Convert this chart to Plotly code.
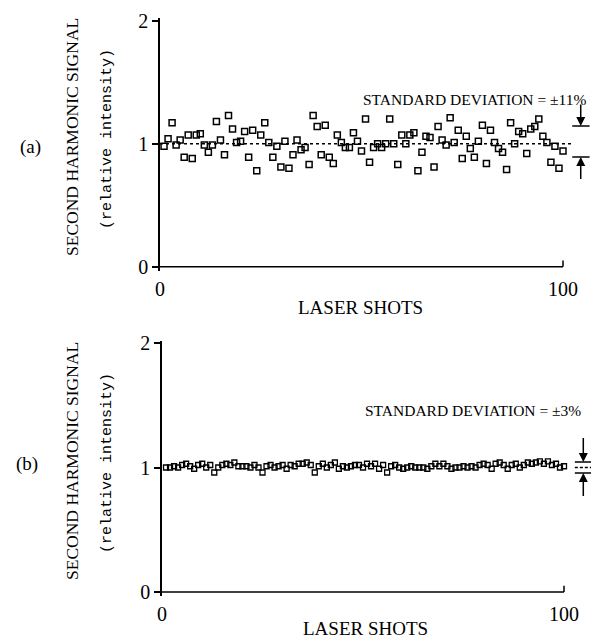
import plotly.graph_objects as go

# ---------------- data ----------------
shots = list(range(1, 101))

signal_a = [
    0.98, 1.04, 1.17, 0.99, 1.03, 0.89, 1.07, 0.88, 1.07, 1.08,
    0.99, 0.93, 0.99, 1.18, 1.03, 0.91, 1.23, 1.12, 1.01, 1.02,
    1.10, 0.89, 1.11, 0.78, 1.07, 1.17, 1.01, 0.89, 0.98, 0.81,
    1.02, 0.80, 0.91, 1.03, 0.95, 0.97, 0.83, 1.23, 1.14, 0.91,
    1.15, 0.89, 0.84, 1.07, 1.01, 0.97, 0.97, 1.09, 1.02, 0.94,
    1.20, 0.85, 0.97, 1.00, 0.97, 1.00, 1.20, 1.00, 0.83, 1.07,
    1.00, 1.07, 1.09, 0.78, 0.93, 1.06, 1.05, 0.81, 1.14, 1.03,
    0.99, 1.21, 1.01, 1.11, 0.88, 1.06, 0.96, 0.89, 1.02, 1.15,
    0.84, 1.11, 1.01, 0.96, 0.93, 0.79, 1.17, 1.00, 1.10, 1.08,
    0.92, 1.12, 1.14, 1.20, 1.06, 1.01, 0.85, 0.98, 0.80, 0.94,
]

signal_b = [
    1.00, 1.00, 1.01, 1.00, 1.02, 1.03, 1.01, 0.99, 1.02, 1.03,
    1.00, 1.02, 0.96, 1.00, 1.02, 1.03, 1.02, 1.04, 1.01, 1.01,
    1.01, 1.00, 1.02, 1.00, 0.96, 1.01, 1.02, 1.00, 1.01, 1.02,
    0.99, 1.02, 1.01, 1.03, 1.03, 1.04, 1.02, 0.96, 1.01, 1.03,
    1.00, 1.02, 1.04, 0.99, 1.01, 1.00, 1.01, 1.02, 1.02, 1.00,
    1.03, 1.01, 1.03, 0.99, 1.02, 0.96, 1.01, 1.02, 1.00, 0.99,
    1.00, 1.01, 1.00, 1.00, 1.00, 0.99, 1.01, 1.03, 1.01, 1.03,
    1.01, 0.99, 1.00, 1.00, 1.01, 1.00, 1.01, 1.00, 1.02, 1.03,
    1.02, 0.99, 1.03, 1.04, 1.02, 0.99, 1.02, 1.03, 1.00, 1.02,
    1.04, 1.03, 1.04, 1.05, 1.03, 1.05, 1.02, 1.03, 1.00, 1.01,
]

y_ticks = [0, 1, 2]
x_ticks = [0, 100]
x_tick_text = ["0", "100"]
mean_level = 1.0
band_a = [0.892, 1.144]      # drawn deviation bars, panel (a)
band_b = [0.955, 1.045]      # drawn deviation bars, panel (b)
std_text_a = "STANDARD DEVIATION = ±11%"
std_text_b = "STANDARD DEVIATION = ±3%"

FONT = "Liberation Serif"
MONO = "Liberation Mono"
INK = "#000000"

# page offset (browser body margin) and figure size
OFF = 8
FW, FH = 599 - OFF, 639 - OFF


def px(x):   # reference page x -> paper
    return (x - OFF) / FW


def py(y):   # reference page y -> paper
    return 1 - (y - OFF) / FH


fig = go.Figure()

fig.add_trace(go.Scatter(
    x=shots, y=signal_a, mode="markers", xaxis="x", yaxis="y",
    marker=dict(symbol="square-open", size=6, color=INK, line=dict(width=1.5, color=INK)),
    showlegend=False, hoverinfo="x+y"))
fig.add_trace(go.Scatter(
    x=shots, y=signal_b, mode="markers", xaxis="x2", yaxis="y2",
    marker=dict(symbol="square-open", size=5, color=INK, line=dict(width=1.3, color=INK)),
    showlegend=False, hoverinfo="x+y"))

common_x = dict(showgrid=False, zeroline=False, showline=False, ticks="",
                tickvals=x_ticks, ticktext=x_tick_text,
                tickfont=dict(family=FONT, size=20, color=INK),
                ticklabelstandoff=4, fixedrange=True)
common_y = dict(showgrid=False, zeroline=False, showline=True, linecolor=INK, linewidth=1.5,
                ticks="outside", ticklen=6, tickwidth=1.5, tickcolor=INK,
                tickvals=y_ticks, tickfont=dict(family=FONT, size=20, color=INK),
                range=[-0.035, 2.02], fixedrange=True)

# panel (a): x=0 at 160px, 4.03 px/unit ; y=2 at 20.7px, y=0 at 266.7px (reference page px)
# panel (b): x=0 at 162px, 4.02 px/unit ; y=2 at 343px,  y=0 at 592px
fig.update_layout(
    xaxis=dict(common_x, domain=[px(160), px(160 + 107 * 4.03)], range=[0, 107], anchor="y"),
    yaxis=dict(common_y, domain=[py(266.7 + 0.035 * 123), py(20.7 - 0.02 * 123)], anchor="x"),
    xaxis2=dict(common_x, domain=[px(162), px(162 + 108 * 4.02)], range=[0, 108], anchor="y2"),
    yaxis2=dict(common_y, domain=[py(592 + 0.035 * 124.5), py(343 - 0.02 * 124.5)], anchor="x2"),
)

shapes = []
for xr, yr in [("x", "y"), ("x2", "y2")]:
    shapes.append(dict(type="line", xref=xr, yref=yr, x0=x_ticks[0], x1=x_ticks[1], y0=0, y1=0,
                       line=dict(color=INK, width=1.5)))
    shapes.append(dict(type="line", xref=xr, yref=yr, x0=x_ticks[1], x1=x_ticks[1], y0=0, y1=0.05,
                       line=dict(color=INK, width=1.5)))

shapes.append(dict(type="line", xref="x", yref="y", x0=0, x1=102, y0=mean_level, y1=mean_level,
                   line=dict(color=INK, width=1.5, dash="3px,3px")))
for lvl in band_a:
    shapes.append(dict(type="line", xref="x", yref="y", x0=102.3, x1=106.6, y0=lvl, y1=lvl,
                       line=dict(color=INK, width=1.5)))
for lvl in band_b:
    shapes.append(dict(type="line", xref="x2", yref="y2", x0=102.7, x1=107.4, y0=lvl, y1=lvl,
                       line=dict(color=INK, width=1.5)))
shapes.append(dict(type="line", xref="x2", yref="y2", x0=102.7, x1=107.4, y0=mean_level, y1=mean_level,
                   line=dict(color=INK, width=1.3, dash="3px,2px")))

annotations = []


def arrow(xr, yr, x, y_tip, y_tail):
    annotations.append(dict(xref=xr, yref=yr, axref=xr, ayref=yr, x=x, y=y_tip, ax=x, ay=y_tail,
                            text="", showarrow=True, arrowhead=2, arrowsize=1.2, arrowwidth=1.5,
                            arrowcolor=INK))


arrow("x", "y", 104.4, band_a[1], 1.33)
arrow("x", "y", 104.4, band_a[0], 0.70)
arrow("x2", "y2", 104.8, band_b[1], 1.25)
arrow("x2", "y2", 104.8, band_b[0], 0.76)


def txt(x, y, s, size, angle=0, xanchor="center", family=FONT):
    annotations.append(dict(xref="paper", yref="paper", x=px(x), y=py(y), text=s,
                            showarrow=False, textangle=angle, xanchor=xanchor, yanchor="middle",
                            font=dict(family=family, size=size, color=INK)))


txt(30, 147, "(a)", 19)
txt(72, 137, "SECOND HARMONIC SIGNAL", 17.5, -90)
txt(107, 139, "(relative intensity)", 15, -90, family=MONO)
txt(360, 307, "LASER SHOTS", 19)
txt(588, 100, std_text_a, 15.5, xanchor="right")

txt(27, 464, "(b)", 19)
txt(72, 461, "SECOND HARMONIC SIGNAL", 17.5, -90)
txt(107, 463, "(relative intensity)", 15, -90, family=MONO)
txt(365, 628, "LASER SHOTS", 19)
txt(583, 411, std_text_b, 15.5, xanchor="right")

fig.update_layout(
    width=FW, height=FH,
    margin=dict(l=0, r=0, t=0, b=0, autoexpand=False),
    paper_bgcolor="white", plot_bgcolor="white",
    shapes=shapes, annotations=annotations,
    font=dict(family=FONT, color=INK),
    showlegend=False,
)

fig.write_html("out.html")
